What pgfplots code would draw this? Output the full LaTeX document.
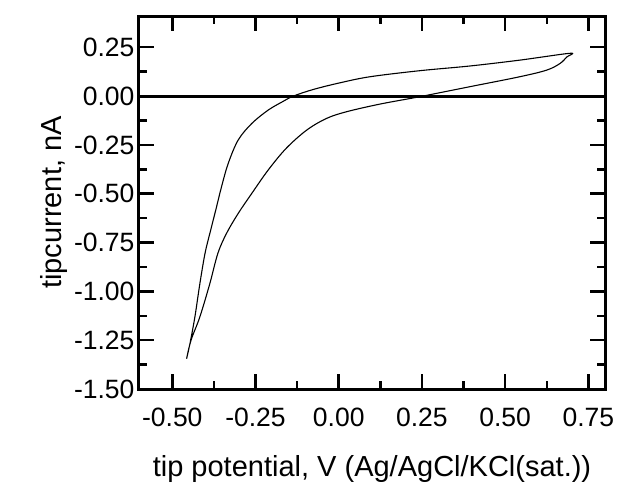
\documentclass[border=0pt]{standalone}
\usepackage{pgfplots}
\pgfplotsset{compat=1.18}
\usepackage{fontspec}
\setmainfont{Liberation Sans}
\begin{document}
\begin{tikzpicture}
\path[use as bounding box] (-139pt,-94pt) rectangle (478pt,389pt);
\begin{axis}[
  at={(0pt,0pt)}, anchor=south west,
  scale only axis, width=466pt, height=373pt,
  xmin=-0.6, xmax=0.8, ymin=-1.5, ymax=0.41,
  xtick={-0.5,-0.25,0,0.25,0.5,0.75},
  ytick={-1.5,-1.25,-1,-0.75,-0.5,-0.25,0,0.25},
  minor tick num=1,
  tick align=inside,
  major tick length=15pt, minor tick length=8pt,
  every tick/.style={line width=2.5pt, black},
  axis line style={line width=3pt},
  /pgf/number format/.cd, fixed, fixed zerofill, precision=2, assume math mode=true,
  /pgfplots/.cd,
  xticklabel={\pgfmathprintnumber{\tick}},
  yticklabel={\pgfmathprintnumber{\tick}},
  every tick label/.append style={font=\fontsize{26.5}{30}\selectfont},
  xticklabel style={yshift=-15pt},
  yticklabel style={xshift=-1pt},
  every axis label/.append style={font=\fontsize{29}{32}\selectfont},
  xlabel={tip potential, V (Ag/AgCl/KCl(sat.))},
  ylabel={tipcurrent, nA},
  xlabel style={yshift=-22pt},
  ylabel style={yshift=0pt},
  clip=false,
]
\addplot[black, line width=3pt, forget plot] coordinates {(-0.6,0) (0.8,0)};
\addplot[black, line width=1.1pt, line join=round, smooth, tension=0.55] coordinates {
(-0.457,-1.345)
(-0.447,-1.268)
(-0.432,-1.130)
(-0.417,-0.959)
(-0.401,-0.80)
(-0.382,-0.669)
(-0.367,-0.567)
(-0.352,-0.464)
(-0.332,-0.345)
(-0.302,-0.225)
(-0.261,-0.140)
(-0.212,-0.072)
(-0.170,-0.030)
(-0.136,0)
(-0.076,0.034)
(0.004,0.068)
(0.094,0.099)
(0.244,0.130)
(0.394,0.154)
(0.544,0.184)
(0.695,0.219)
(0.685,0.200)
(0.665,0.167)
(0.625,0.133)
(0.544,0.099)
(0.394,0.048)
(0.244,-0.003)
(0.124,-0.041)
(0.024,-0.080)
(-0.036,-0.114)
(-0.096,-0.174)
(-0.158,-0.268)
(-0.212,-0.379)
(-0.261,-0.498)
(-0.302,-0.601)
(-0.337,-0.703)
(-0.363,-0.805)
(-0.387,-0.959)
(-0.417,-1.130)
(-0.440,-1.232)
(-0.450,-1.29)
(-0.457,-1.345)
};
\end{axis}
\end{tikzpicture}
\end{document}
